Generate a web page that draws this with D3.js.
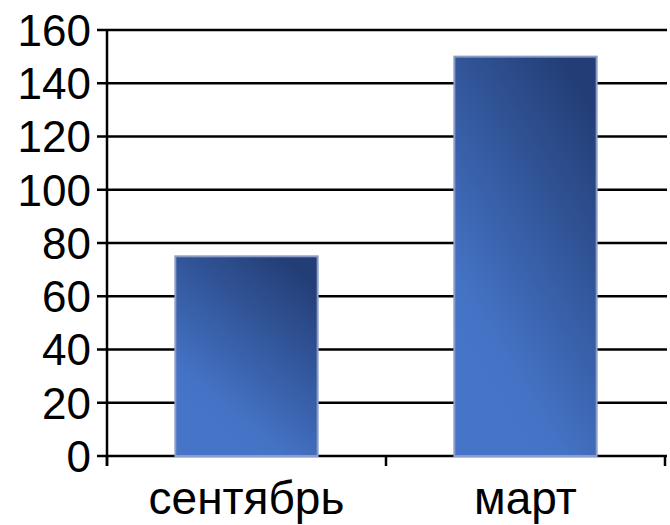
<!DOCTYPE html>
<html>
<head>
<meta charset="utf-8">
<script src="https://cdn.jsdelivr.net/npm/d3@7"></script>
<style>
  body { margin: 0; background: #fff; }
  text { font-family: "Liberation Sans", Arial, sans-serif; fill: #000; }
</style>
</head>
<body>
<div id="chart"></div>
<script>
// данные
var months = ['сентябрь', 'март'];
var values = [75, 150];
var yTicks = [0, 20, 40, 60, 80, 100, 120, 140, 160];

var width = 670, height = 525;
var margin = {left: 107, right: 5, top: 30, bottom: 69};

var svg = d3.select('#chart').append('svg')
  .attr('width', width)
  .attr('height', height);

var defs = svg.append('defs');
var grad = defs.append('linearGradient')
  .attr('id', 'barGrad')
  .attr('x1', '25%').attr('y1', '85%')
  .attr('x2', '75%').attr('y2', '0%');
grad.append('stop').attr('offset', '0%').attr('stop-color', '#4674c8');
grad.append('stop').attr('offset', '15%').attr('stop-color', '#4472c4');
grad.append('stop').attr('offset', '100%').attr('stop-color', '#233e76');

var x = d3.scaleBand()
  .domain(months)
  .range([margin.left, width - margin.right])
  .paddingInner(0.49)
  .paddingOuter(0.245);

var y = d3.scaleLinear()
  .domain([0, 160])
  .range([height - margin.bottom, margin.top]);

// сетка
svg.append('g')
  .selectAll('line')
  .data(yTicks)
  .enter()
  .append('line')
  .attr('x1', margin.left - 10)
  .attr('x2', width - margin.right + 2)
  .attr('y1', d => y(d))
  .attr('y2', d => y(d))
  .style('stroke', '#000')
  .style('stroke-width', 2.5);

// столбцы
svg.append('g')
  .selectAll('rect')
  .data(values)
  .enter()
  .append('rect')
  .attr('x', (d, i) => x(months[i]))
  .attr('y', d => y(d))
  .attr('width', x.bandwidth())
  .attr('height', d => y(0) - y(d))
  .style('fill', 'url(#barGrad)')
  .style('stroke', '#8b9dc6')
  .style('stroke-width', 2);

// ось Y
svg.append('line')
  .attr('x1', margin.left).attr('x2', margin.left)
  .attr('y1', y(160)).attr('y2', y(0) + 10)
  .style('stroke', '#000').style('stroke-width', 2.5);

svg.append('g')
  .selectAll('text')
  .data(yTicks)
  .enter()
  .append('text')
  .attr('x', margin.left - 16)
  .attr('y', d => y(d))
  .attr('dy', '0.36em')
  .style('text-anchor', 'end')
  .style('font-size', '44px')
  .text(d => d);

// ось X
var xStep = x.step();
var xTickPos = [margin.left, margin.left + xStep, margin.left + 2 * xStep];
svg.append('g')
  .selectAll('line')
  .data(xTickPos)
  .enter()
  .append('line')
  .attr('x1', d => d).attr('x2', d => d)
  .attr('y1', y(0)).attr('y2', y(0) + 10)
  .style('stroke', '#000').style('stroke-width', 2.5);

svg.append('g')
  .selectAll('text')
  .data(months)
  .enter()
  .append('text')
  .attr('x', d => x(d) + x.bandwidth() / 2)
  .attr('y', 514)
  .style('text-anchor', 'middle')
  .style('font-size', '46px')
  .text(d => d);
</script>
</body>
</html>
